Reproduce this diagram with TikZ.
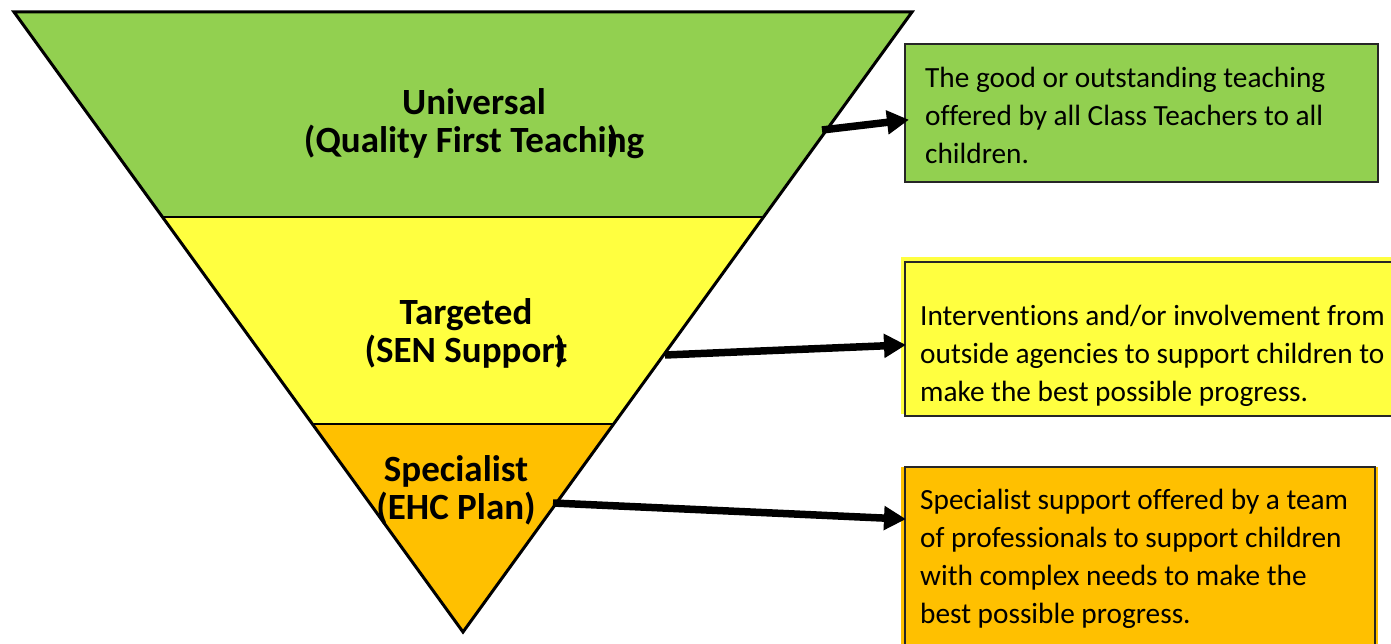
\documentclass[tikz,border=0pt]{standalone}
\usepackage{fontspec}
\setmainfont{Carlito}[Ligatures=NoCommon]
\usetikzlibrary{arrows.meta}
\definecolor{tgreen}{HTML}{92D050}
\definecolor{tyellow}{HTML}{FFFF40}
\definecolor{torange}{HTML}{FFC000}
\begin{document}
\begin{tikzpicture}[x=1pt,y=-1pt,
  tierlabel/.style={align=center,font=\fontsize{37}{38}\selectfont\bfseries,inner sep=0pt},
  boxtext/.style={align=left,anchor=west,font=\fontsize{29.3}{38}\selectfont,inner sep=0pt},
  conn/.style={line width=7.5pt,-{Triangle[length=22pt,width=23pt]},shorten >=-2pt},
  boxline/.style={draw=black!85,line width=1.3pt}]
\useasboundingbox (0,0) rectangle (1391,644);
% triangle tiers
\coordinate (TL) at (14,12);
\coordinate (TR) at (912,12);
\coordinate (AP) at (463,632);
\coordinate (L1) at (162.5,217);
\coordinate (R1) at (763.5,217);
\coordinate (L2) at (312.4,424);
\coordinate (R2) at (613.6,424);
\fill[tgreen] (TL) -- (TR) -- (R1) -- (L1) -- cycle;
\fill[tyellow] (L1) -- (R1) -- (R2) -- (L2) -- cycle;
\fill[torange] (L2) -- (R2) -- (AP) -- cycle;
\draw[line width=2.5pt] (L1) -- (R1);
\draw[line width=2pt] (L2) -- (R2);
\draw[line width=3pt,line join=miter] (TL) -- (TR) -- (AP) -- cycle;
% tier labels
\node[tierlabel] (universal) at (474,124) {Universal\\(Quality First Teachi\rlap{)}ng};
\node[tierlabel] (targeted) at (466,333) {Targeted\\(SEN Suppor\rlap{)}t};
\node[tierlabel] (specialist) at (456,490) {Specialist\\(EHC Plan)};
% description boxes
\fill[tgreen] (905,44) rectangle (1378,182);
\draw[boxline] (905,44) rectangle (1378,182);
\node[boxtext] (gtext) at (925,115) {The good or outstanding teaching\\offered by all Class Teachers to all\\children.};
\fill[tyellow] (901,257) rectangle (1391,414);
\fill[tyellow] (905,262) rectangle (1391,416);
\draw[boxline] (1392,262) -- (905,262) -- (905,416) -- (1392,416);
\node[boxtext] (ytext) at (920,356) {Interventions and/or involvement from\\outside agencies to support children to\\make the best possible progress.};
\fill[torange] (901,467) rectangle (1378,644);
\draw[boxline] (905,646) -- (905,467) -- (1375,467) -- (1375,646);
\node[boxtext] (otext) at (920,559) {Specialist support offered by a team\\of professionals to support children\\with complex needs to make the\\best possible progress.};
% connectors
\coordinate (a1s) at (822,130);
\coordinate (a1e) at (907,120);
\coordinate (a2s) at (665,355);
\coordinate (a2e) at (904,345);
\coordinate (a3s) at (553,503);
\coordinate (a3e) at (904,519);
\draw[conn] (a1s) -- (a1e);
\draw[conn] (a2s) -- (a2e);
\draw[conn] (a3s) -- (a3e);
\end{tikzpicture}
\end{document}
